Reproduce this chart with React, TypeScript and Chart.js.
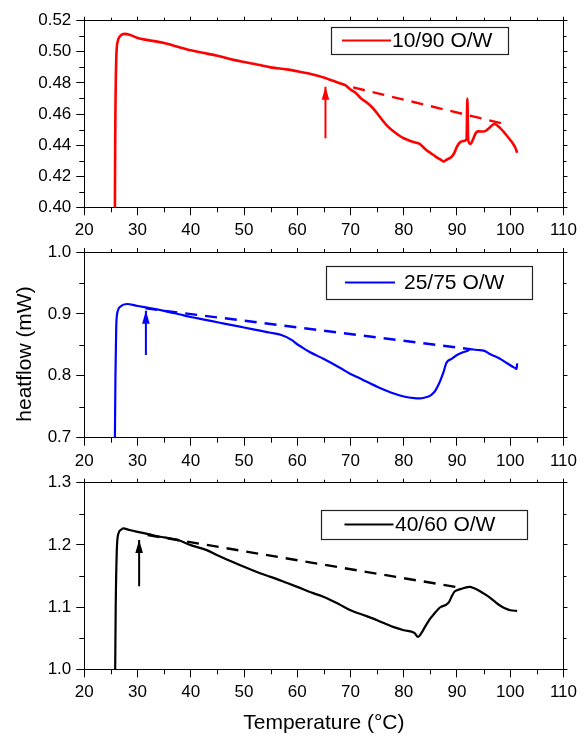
import React, { useEffect, useRef } from 'react';
import { Chart, registerables } from 'chart.js';

Chart.register(...registerables);

const FONT = "'Liberation Sans', Arial, sans-serif";

// ---------- shared axis ticks ----------
const X_TICKS = [20, 30, 40, 50, 60, 70, 80, 90, 100, 110];
const X_MINOR = [25, 35, 45, 55, 65, 75, 85, 95, 105];
const Y_TITLE = 'heatflow (mW)';
const X_TITLE = 'Temperature (°C)';

// ---------- panel 1 : 10/90 O/W ----------
const LABEL_1 = '10/90 O/W';
const Y1_TICKS = [0.40, 0.42, 0.44, 0.46, 0.48, 0.50, 0.52];
const Y1_MINOR = [0.41, 0.43, 0.45, 0.47, 0.49, 0.51];
const T_1 = [25.75, 25.8, 26.0, 26.3, 26.7, 27.5, 28.5, 30, 32, 35, 38, 40, 42, 45, 48, 50, 53, 55, 58, 60, 62, 64, 65, 66, 67, 68, 69, 70, 71, 72, 73, 74, 75, 76, 77, 78, 79, 80, 81, 82, 83, 84, 85, 86, 87, 87.5, 88, 89, 89.5, 90, 90.5, 91, 91.8, 91.95, 92.1, 92.5, 93, 93.5, 94, 95, 96, 97, 98, 99, 100, 100.5, 101, 101.3];
const HF_1 = [0.400, 0.440, 0.495, 0.507, 0.510, 0.5115, 0.511, 0.5088, 0.5075, 0.5057, 0.5028, 0.501, 0.4995, 0.4975, 0.4948, 0.4935, 0.4915, 0.490, 0.4887, 0.4875, 0.4862, 0.4845, 0.4835, 0.4822, 0.481, 0.4798, 0.4785, 0.4758, 0.4735, 0.470, 0.4675, 0.4645, 0.4605, 0.456, 0.452, 0.449, 0.4465, 0.4444, 0.443, 0.4418, 0.4408, 0.4375, 0.435, 0.4326, 0.4305, 0.4295, 0.4305, 0.4325, 0.435, 0.439, 0.4415, 0.4425, 0.4435, 0.470, 0.4435, 0.4407, 0.4435, 0.4476, 0.4488, 0.4487, 0.4508, 0.4536, 0.4514, 0.4476, 0.4433, 0.441, 0.438, 0.4351];
const BASE_T_1 = [70.5, 98.5];
const BASE_HF_1 = [0.4771, 0.4539];
const ARROW_T_1 = [65.3, 65.3];
const ARROW_HF_1 = [0.4444, 0.4776];

// ---------- panel 2 : 25/75 O/W ----------
const LABEL_2 = '25/75 O/W';
const Y2_TICKS = [0.7, 0.8, 0.9, 1.0];
const Y2_MINOR = [0.75, 0.85, 0.95];
const T_2 = [25.75, 25.85, 26.0, 26.3, 26.8, 28, 30, 32, 35, 38, 40, 43, 45, 48, 50, 53, 55, 57, 58, 59, 60, 61, 62, 65, 68, 70, 72, 75, 77, 78, 80, 82, 83, 84, 85, 85.5, 86, 86.5, 87, 87.5, 88, 89, 90, 91, 92, 92.5, 93, 94, 95, 95.5, 96, 97, 98, 99, 100, 101, 101.2, 101.3];
const HF_2 = [0.700, 0.800, 0.880, 0.905, 0.912, 0.916, 0.9128, 0.910, 0.905, 0.899, 0.895, 0.890, 0.8865, 0.8815, 0.878, 0.873, 0.8695, 0.866, 0.8625, 0.8575, 0.851, 0.8455, 0.840, 0.827, 0.813, 0.803, 0.795, 0.7824, 0.775, 0.7717, 0.7665, 0.7638, 0.7635, 0.765, 0.768, 0.7717, 0.777, 0.785, 0.795, 0.8066, 0.8207, 0.8275, 0.8336, 0.8375, 0.8405, 0.843, 0.8425, 0.8417, 0.8406, 0.839, 0.836, 0.832, 0.828, 0.8225, 0.817, 0.812, 0.811, 0.82];
const BASE_T_2 = [31.5, 92.5];
const BASE_HF_2 = [0.909, 0.843];
const ARROW_T_2 = [31.57, 31.57];
const ARROW_HF_2 = [0.8336, 0.905];

// ---------- panel 3 : 40/60 O/W ----------
const LABEL_3 = '40/60 O/W';
const Y3_TICKS = [1.0, 1.1, 1.2, 1.3];
const Y3_MINOR = [1.05, 1.15, 1.25];
const T_3 = [25.8, 25.9, 26.1, 26.4, 27.0, 27.3, 28.5, 30, 32, 34, 35, 38, 40, 43, 45, 48, 50, 53, 55, 58, 60, 63, 65, 68, 70, 73, 75, 78, 80, 82, 82.7, 83.3, 84, 85, 85.5, 86.5, 87, 88, 88.5, 89, 89.5, 90, 91, 92, 92.5, 93, 94, 95, 96, 97, 98, 99, 100, 101.3];
const HF_3 = [1.000, 1.100, 1.190, 1.218, 1.225, 1.2265, 1.224, 1.221, 1.2173, 1.2135, 1.212, 1.2066, 1.1996, 1.1916, 1.1835, 1.172, 1.1647, 1.1545, 1.1486, 1.139, 1.1325, 1.1225, 1.1164, 1.104, 1.095, 1.0855, 1.0789, 1.0682, 1.0628, 1.0585, 1.052, 1.058, 1.0682, 1.082, 1.087, 1.097, 1.1003, 1.104, 1.108, 1.117, 1.1245, 1.127, 1.1298, 1.132, 1.1325, 1.131, 1.1272, 1.122, 1.1164, 1.1095, 1.103, 1.098, 1.095, 1.0939];
const BASE_T_3 = [31.9, 89.7];
const BASE_HF_3 = [1.216, 1.1325];
const ARROW_T_3 = [30.3, 30.3];
const ARROW_HF_3 = [1.1336, 1.2077];

const pts = (xs: number[], ys: number[]) => xs.map((x, i) => ({ x, y: ys[i] }));

type Panel = {
  top: number; height: number; areaTop: number; areaBottom: number;
  color: string; label: string; T: number[]; HF: number[];
  baseT: number[]; baseHF: number[]; arrowT: number[]; arrowHF: number[];
  yTicks: number[]; yMinor: number[]; decimals: number;
  legend: { x: number; y: number; w: number; h: number; l1: number; l2: number; tx: number };
  yTitle?: { text: string; x: number; y: number };
  xTitle?: string;
};

const AREA_LEFT = 84.3;
const AREA_RIGHT = 564.3;
const WIDTH = 582;

const PANELS: Panel[] = [
  {
    top: 0, height: 250, areaTop: 20.7, areaBottom: 207.3, color: '#ff0000', label: LABEL_1,
    T: T_1, HF: HF_1, baseT: BASE_T_1, baseHF: BASE_HF_1, arrowT: ARROW_T_1, arrowHF: ARROW_HF_1,
    yTicks: Y1_TICKS, yMinor: Y1_MINOR, decimals: 2,
    legend: { x: 331, y: 27, w: 177, h: 27, l1: 342, l2: 391, tx: 392 },
  },
  {
    top: 232, height: 250, areaTop: 20, areaBottom: 205.7, color: '#0000ff', label: LABEL_2,
    T: T_2, HF: HF_2, baseT: BASE_T_2, baseHF: BASE_HF_2, arrowT: ARROW_T_2, arrowHF: ARROW_HF_2,
    yTicks: Y2_TICKS, yMinor: Y2_MINOR, decimals: 1,
    legend: { x: 325.5, y: 34, w: 206, h: 33, l1: 345, l2: 395, tx: 404 },
    yTitle: { text: Y_TITLE, x: 25, y: 122 },
  },
  {
    top: 462, height: 274, areaTop: 20.7, areaBottom: 207.3, color: '#000000', label: LABEL_3,
    T: T_3, HF: HF_3, baseT: BASE_T_3, baseHF: BASE_HF_3, arrowT: ARROW_T_3, arrowHF: ARROW_HF_3,
    yTicks: Y3_TICKS, yMinor: Y3_MINOR, decimals: 1,
    legend: { x: 321, y: 48, w: 206, h: 29, l1: 344.5, l2: 393.5, tx: 395 },
    xTitle: X_TITLE,
  },
];

const decorPlugin = {
  id: 'decor',
  afterDatasetsDraw(chart: any, _args: any, opts: any) {
    const ctx = chart.ctx as CanvasRenderingContext2D;
    const { left, right, top, bottom } = chart.chartArea;
    const xs = chart.scales.x;
    const ys = chart.scales.y;
    const line = (a: number, b: number, c: number, d: number) => {
      ctx.beginPath(); ctx.moveTo(a, b); ctx.lineTo(c, d); ctx.stroke();
    };
    ctx.save();
    ctx.strokeStyle = '#000';
    ctx.lineWidth = 1;
    for (const v of opts.xMinor) {
      const px = Math.round(xs.getPixelForValue(v)) + 0.5;
      line(px, bottom, px, bottom + 5);
      line(px, top, px, top - 3);
    }
    for (const v of opts.yMinor) {
      const py = Math.round(ys.getPixelForValue(v)) + 0.5;
      line(left, py, left - 5, py);
      line(right, py, right + 3, py);
    }
    // arrow head
    const meta = chart.getDatasetMeta(2);
    const tip = meta.data[1];
    ctx.fillStyle = opts.color;
    ctx.beginPath();
    ctx.moveTo(tip.x, tip.y);
    ctx.lineTo(tip.x - 3.8, tip.y + 13);
    ctx.lineTo(tip.x + 3.8, tip.y + 13);
    ctx.closePath();
    ctx.fill();
    // legend
    const L = opts.legend;
    ctx.fillStyle = '#fff';
    ctx.fillRect(L.x, L.y, L.w, L.h);
    ctx.strokeStyle = '#222';
    ctx.lineWidth = 1.2;
    ctx.strokeRect(Math.round(L.x) + 0.5, Math.round(L.y) + 0.5, L.w, L.h);
    ctx.strokeStyle = opts.color;
    ctx.lineWidth = 2;
    const my = L.y + L.h / 2;
    line(L.l1, my, L.l2, my);
    ctx.fillStyle = '#000';
    ctx.font = `21px ${FONT}`;
    ctx.textBaseline = 'middle';
    ctx.textAlign = 'left';
    ctx.fillText(opts.label, L.tx, my + 1);
    // y axis title
    if (opts.yTitle) {
      ctx.save();
      ctx.translate(opts.yTitle.x, opts.yTitle.y);
      ctx.rotate(-Math.PI / 2);
      ctx.textAlign = 'center';
      ctx.textBaseline = 'middle';
      ctx.font = `21px ${FONT}`;
      ctx.fillStyle = '#000';
      ctx.fillText(opts.yTitle.text, 0, 0);
      ctx.restore();
    }
    ctx.restore();
  },
};

function PanelChart({ p }: { p: Panel }) {
  const ref = useRef<HTMLCanvasElement>(null);
  useEffect(() => {
    if (!ref.current) return;
    const yMin = p.yTicks[0];
    const yMax = p.yTicks[p.yTicks.length - 1];
    const gridMajor = { drawOnChartArea: false, drawTicks: true, tickLength: 8, tickColor: '#000', tickWidth: 1 };
    const gridSmall = { drawOnChartArea: false, drawTicks: true, tickLength: 4, tickColor: '#000', tickWidth: 1 };
    const border = { display: true, color: '#000', width: 1 };
    const tickFont = { family: FONT, size: 17 };
    const chart = new Chart(ref.current, {
      type: 'line',
      data: {
        datasets: [
          {
            data: pts(p.T, p.HF), borderColor: p.color, borderWidth: p.color === '#ff0000' ? 2.6 : 2.2,
            pointRadius: 0, cubicInterpolationMode: 'monotone', fill: false,
          },
          {
            data: pts(p.baseT, p.baseHF), borderColor: p.color, borderWidth: 2.4, borderDash: [12, 8],
            pointRadius: 0, fill: false,
          },
          {
            data: pts(p.arrowT, p.arrowHF), borderColor: p.color, borderWidth: 2,
            pointRadius: 0, fill: false,
          },
        ],
      },
      options: {
        animation: false,
        responsive: false,
        devicePixelRatio: 1,
        layout: { padding: 0 },
        plugins: {
          legend: { display: false },
          tooltip: { enabled: false },
          decor: {
            xMinor: X_MINOR, yMinor: p.yMinor, color: p.color, legend: p.legend, label: p.label, yTitle: p.yTitle,
          },
        } as any,
        scales: {
          x: {
            type: 'linear', position: 'bottom', min: X_TICKS[0], max: X_TICKS[X_TICKS.length - 1],
            afterBuildTicks: (s: any) => { s.ticks = X_TICKS.map((v) => ({ value: v })); },
            ticks: { color: '#000', font: tickFont, padding: 5, maxRotation: 0, autoSkip: false, callback: (v: any) => String(v) },
            grid: gridMajor, border,
            title: p.xTitle
              ? { display: true, text: p.xTitle, color: '#000', font: { family: FONT, size: 21 }, padding: { top: 0, bottom: 0 } }
              : { display: false },
            afterFit: (s: any) => { s.height = p.height - p.areaBottom; },
          },
          x2: {
            type: 'linear', position: 'top', min: X_TICKS[0], max: X_TICKS[X_TICKS.length - 1],
            afterBuildTicks: (s: any) => { s.ticks = X_TICKS.map((v) => ({ value: v })); },
            ticks: { display: false },
            grid: gridSmall, border,
            afterFit: (s: any) => { s.height = p.areaTop; },
          },
          y: {
            type: 'linear', position: 'left', min: yMin, max: yMax,
            afterBuildTicks: (s: any) => { s.ticks = p.yTicks.map((v) => ({ value: v })); },
            ticks: { color: '#000', font: tickFont, padding: 5, autoSkip: false, callback: (v: any) => Number(v).toFixed(p.decimals) },
            grid: gridMajor, border,
            afterFit: (s: any) => { s.width = AREA_LEFT; },
          },
          y2: {
            type: 'linear', position: 'right', min: yMin, max: yMax,
            afterBuildTicks: (s: any) => { s.ticks = p.yTicks.map((v) => ({ value: v })); },
            ticks: { display: false },
            grid: gridSmall, border,
            afterFit: (s: any) => { s.width = WIDTH - AREA_RIGHT; },
          },
        },
      } as any,
      plugins: [decorPlugin],
    });
    return () => chart.destroy();
  }, [p]);
  return (
    <div style={{ position: 'absolute', left: 0, top: p.top, width: WIDTH, height: p.height }}>
      <canvas ref={ref} width={WIDTH} height={p.height} style={{ display: 'block', width: WIDTH, height: p.height }} />
    </div>
  );
}

export default function App() {
  return (
    <div style={{ position: 'absolute', left: 0, top: 0, width: WIDTH, height: 736, background: '#fff' }}>
      {PANELS.map((p, i) => (
        <PanelChart key={i} p={p} />
      ))}
    </div>
  );
}
